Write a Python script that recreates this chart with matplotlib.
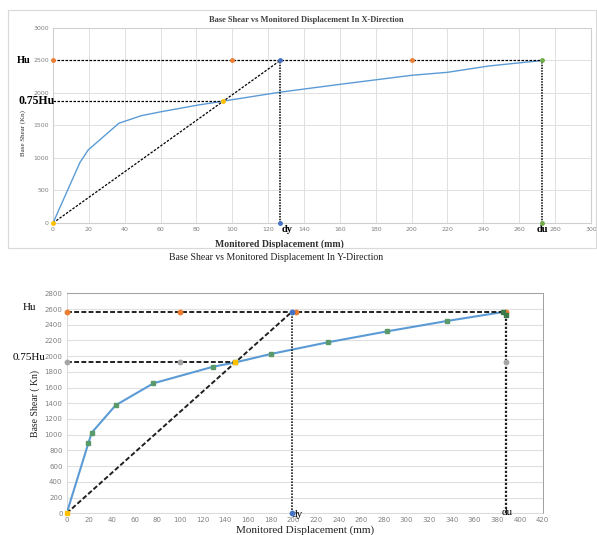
import matplotlib
matplotlib.use('Agg')
import matplotlib.pyplot as plt
from matplotlib.patches import Rectangle

# X-direction pushover curve
disp_x = [0, 15, 19.6, 36.7, 49.3, 60, 80, 95, 126, 160, 200, 220, 243, 273]
shear_x = [0, 930, 1123, 1534, 1651, 1710, 1810, 1875, 2010, 2133, 2272, 2318, 2415, 2500]
hu_x = 2500
dy_x = 126.7
du_x = 273
x_ticks_top = list(range(0, 301, 20))
y_ticks_top = list(range(0, 3001, 500))

# Y-direction pushover curve
disp_y = [0, 19.1, 22.1, 43.2, 76.5, 129.4, 148.8, 180, 230.4, 283, 335.4, 385.3]
shear_y = [0, 891, 1026, 1375, 1654, 1866, 1920, 2027, 2176, 2316, 2447, 2562]
hu_y = 2560
dy_y = 198.4
du_y = 388
x_ticks_bot = list(range(0, 421, 20))
y_ticks_bot = list(range(0, 2801, 200))

line_col = '#5b9bd5'
orange = '#ed7d31'
yellow = '#ffc000'
blue = '#4472c4'
green = '#70ad47'
gray = '#a5a5a5'
serif = 'Liberation Serif'
tick_col = '#808080'

fig = plt.figure(figsize=(5.97, 5.35), dpi=100)

# light frame around top chart
fig.patches.append(Rectangle((8 / 597, 1 - 248 / 535), 588 / 597, 238 / 535,
                             transform=fig.transFigure, fill=False,
                             edgecolor='#d9d9d9', lw=0.8))

# ---------- top chart ----------
ax1 = fig.add_axes([0.0888, 0.5832, 0.9010, 0.3645])
ax1.set_xlim(0, 300)
ax1.set_ylim(0, 3000)
ax1.set_xticks(x_ticks_top)
ax1.set_yticks(y_ticks_top)
ax1.grid(True, color='#e0e0e0', lw=0.7)
ax1.set_axisbelow(True)
for s in ax1.spines.values():
    s.set_color('#d0d0d0')
    s.set_linewidth(0.8)
ax1.tick_params(length=0, labelsize=4.5, colors=tick_col, pad=3)

ax1.plot(disp_x, shear_x, color=line_col, lw=1.0, zorder=3)
k = 0.75 * hu_x
dash = dict(color='black', lw=0.9, ls=(0, (2, 1.2)), zorder=4)
ax1.plot([0, du_x], [hu_x, hu_x], **dash)
ax1.plot([0, k / hu_x * dy_x], [k, k], **dash)
ax1.plot([0, dy_x], [0, hu_x], **dash)
ax1.plot([dy_x, dy_x], [0, hu_x], color='black', lw=1.1, ls=(0, (1, 0.8)), zorder=4)
ax1.plot([du_x, du_x], [0, hu_x], color='black', lw=1.1, ls=(0, (1, 0.8)), zorder=4)
ms = 2.5
ax1.plot([0, 100, 200], [hu_x] * 3, 'o', color=orange, ms=ms, zorder=5, clip_on=False)
ax1.plot([0, k / hu_x * dy_x], [0, k], 'o', color=yellow, ms=ms, zorder=5, clip_on=False)
ax1.plot([dy_x, dy_x], [0, hu_x], 'o', color=blue, ms=ms, zorder=5, clip_on=False)
ax1.plot([du_x, du_x], [0, hu_x], 'o', color=green, ms=ms, zorder=5, clip_on=False)

ax1.set_title('Base Shear vs Monitored Displacement In X-Direction', family=serif,
              fontsize=6, fontweight='bold', color='#404040', pad=4, x=0.47)
ax1.set_xlabel('Monitored Displacement (mm)', family=serif, fontsize=7,
               fontweight='bold', color='#303030', labelpad=5, x=0.42)
ax1.set_ylabel('Base Shear (Kn)', family=serif, fontsize=5, color='#303030',
               labelpad=5, y=0.46)
ax1.text(-0.042, hu_x, 'Hu', transform=ax1.get_yaxis_transform(), ha='right',
         va='center', family=serif, fontsize=7.5, fontweight='bold')
ax1.text(0.004, k, '0.75Hu', transform=ax1.get_yaxis_transform(), ha='right',
         va='center', family=serif, fontsize=8.5, fontweight='bold', zorder=6)
ax1.text(dy_x + 1, -30, 'dy', ha='left', va='top', family=serif, fontsize=7.5, fontweight='bold')
ax1.text(du_x - 3, -30, 'du', ha='left', va='top', family=serif, fontsize=7.5, fontweight='bold')

# ---------- bottom chart ----------
ax2 = fig.add_axes([0.1117, 0.0406, 0.7972, 0.4112])
ax2.set_xlim(0, 420)
ax2.set_ylim(0, 2800)
ax2.set_xticks(x_ticks_bot)
ax2.set_yticks(y_ticks_bot)
ax2.grid(True, axis='y', color='#e0e0e0', lw=0.8)
ax2.set_axisbelow(True)
for name, s in ax2.spines.items():
    s.set_color('#a0a0a0')
    s.set_linewidth(0.7)
    s.set_linestyle((0, (1, 1)))
ax2.spines['left'].set_color('#d9d9d9')
ax2.spines['bottom'].set_color('#d9d9d9')
ax2.tick_params(length=0, labelsize=5, colors=tick_col, pad=3)

ax2.plot(disp_y, shear_y, color=line_col, lw=1.5, zorder=3)
ax2.plot(disp_y[1:-1], shear_y[1:-1], 's', color='#5a9a6a', ms=2.8, zorder=4)
k2 = 0.75 * hu_y
dash2 = dict(color='#202020', lw=1.4, ls=(0, (2.5, 1.2)), zorder=4)
ax2.plot([0, du_y], [hu_y, hu_y], **dash2)
ax2.plot([0, k2 / hu_y * dy_y], [k2, k2], **dash2)
ax2.plot([0, dy_y], [0, hu_y], **dash2)
ax2.plot([dy_y, dy_y], [0, hu_y], color='#202020', lw=1.2, ls=(0, (1, 0.8)), zorder=4)
ax2.plot([du_y, du_y], [0, hu_y], color='#202020', lw=1.6, ls=(0, (1, 0.8)), zorder=4)
ms2 = 3.2
ax2.plot([0, 100, 202, du_y], [hu_y] * 4, 'o', color=orange, ms=ms2, zorder=5, clip_on=False)
ax2.plot([0, 100, du_y], [k2] * 3, 'o', color=gray, ms=ms2, zorder=5, clip_on=False)
ax2.plot([0, k2 / hu_y * dy_y], [0, k2], 's', color=yellow, ms=ms2, zorder=5, clip_on=False)
ax2.plot([dy_y, dy_y], [0, hu_y], 'o', color=blue, ms=ms2, zorder=5, clip_on=False)
ax2.plot([disp_y[-1], du_y], [shear_y[-1], 2520], 's', color='#3c7a4a', ms=ms2, zorder=6)

ax2.set_title('Base Shear vs Monitored Displacement In Y-Direction', family=serif,
              fontsize=7, color='#202020', pad=24, x=0.44)
ax2.set_xlabel('Monitored Displacement (mm)', family=serif, fontsize=8,
               color='#202020', labelpad=1.5, x=0.5)
ax2.set_ylabel('Base Shear ( Kn)', family=serif, fontsize=7, color='#202020', labelpad=3)
ax2.text(-0.065, hu_y + 60, 'Hu', transform=ax2.get_yaxis_transform(), ha='right',
         va='center', family=serif, fontsize=8)
ax2.text(-0.045, k2 + 60, '0.75Hu', transform=ax2.get_yaxis_transform(), ha='right',
         va='center', family=serif, fontsize=8)
ax2.text(dy_y, -20, 'dy', ha='left', va='center', family=serif, fontsize=8)
ax2.text(du_y - 4, 10, 'du', ha='left', va='center', family=serif, fontsize=8)

fig.savefig('out.png', dpi=100)
